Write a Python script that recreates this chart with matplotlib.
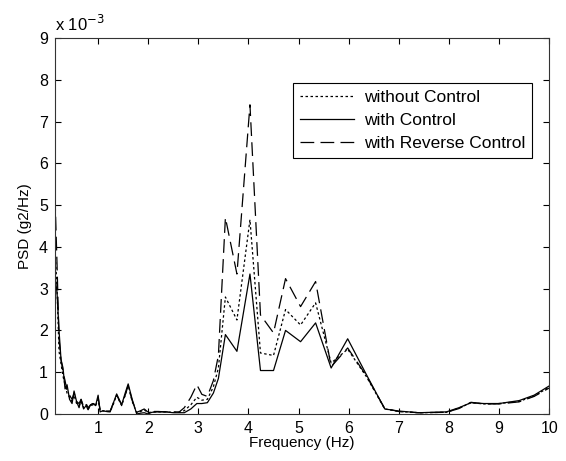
import matplotlib.pyplot as plt

plt.rcParams['font.family'] = ['Liberation Sans', 'DejaVu Sans']

# частоты, Гц
freq = [0.14, 0.18, 0.22, 0.26, 0.30, 0.34, 0.38, 0.43, 0.48, 0.52,
        0.57, 0.62, 0.66, 0.71, 0.76, 0.80, 0.85, 0.90, 0.95, 1.00,
        1.04, 1.10, 1.16, 1.24, 1.30, 1.37, 1.42, 1.47, 1.54, 1.60,
        1.68, 1.77, 1.85, 1.92, 2.00, 2.07, 2.20, 2.35, 2.50, 2.62,
        2.72, 2.85, 2.97, 3.07, 3.18, 3.30, 3.40, 3.54, 3.77, 4.03,
        4.24, 4.50, 4.74, 5.04, 5.34, 5.65, 5.98, 6.35, 6.72, 7.00,
        7.40, 7.95, 8.20, 8.44, 8.70, 9.00, 9.40, 9.70, 10.0]

# PSD в единицах 1e-3 g2/Hz
psd_without = [4.0, 3.0, 1.5, 1.2, 0.9, 0.7, 0.5, 0.4, 0.3, 0.45,
               0.25, 0.2, 0.3, 0.15, 0.22, 0.12, 0.2, 0.22, 0.2, 0.35,
               0.08, 0.07, 0.06, 0.06, 0.22, 0.45, 0.32, 0.2, 0.45, 0.68,
               0.3, 0.03, 0.06, 0.1, 0.03, 0.05, 0.05, 0.05, 0.04, 0.04,
               0.08, 0.22, 0.4, 0.33, 0.35, 0.65, 1.1, 2.8, 2.25, 4.65,
               1.46, 1.4, 2.5, 2.13, 2.66, 1.22, 1.55, 0.9, 0.12, 0.06,
               0.03, 0.04, 0.14, 0.27, 0.24, 0.25, 0.3, 0.43, 0.64]

psd_with = [3.3, 2.9, 2.0, 1.3, 1.1, 0.6, 0.7, 0.35, 0.25, 0.55,
            0.3, 0.15, 0.35, 0.12, 0.2, 0.1, 0.22, 0.25, 0.2, 0.45,
            0.05, 0.08, 0.06, 0.05, 0.25, 0.48, 0.35, 0.22, 0.5, 0.72,
            0.35, 0.0, 0.02, 0.03, 0.0, 0.04, 0.05, 0.05, 0.03, 0.03,
            0.03, 0.12, 0.25, 0.25, 0.27, 0.5, 0.85, 1.9, 1.5, 3.35,
            1.04, 1.04, 2.0, 1.73, 2.18, 1.1, 1.8, 0.95, 0.12, 0.07,
            0.03, 0.05, 0.15, 0.27, 0.25, 0.25, 0.32, 0.45, 0.67]

psd_reverse = [5.2, 3.6, 1.8, 1.3, 1.0, 0.8, 0.55, 0.45, 0.35, 0.5,
               0.3, 0.25, 0.35, 0.18, 0.25, 0.15, 0.22, 0.25, 0.22, 0.4,
               0.1, 0.08, 0.07, 0.07, 0.25, 0.45, 0.33, 0.22, 0.45, 0.68,
               0.32, 0.04, 0.08, 0.12, 0.04, 0.06, 0.06, 0.05, 0.05, 0.05,
               0.15, 0.4, 0.7, 0.47, 0.42, 0.8, 1.4, 4.7, 3.35, 7.4,
               2.37, 1.94, 3.24, 2.57, 3.17, 1.13, 1.58, 0.92, 0.13, 0.06,
               0.03, 0.04, 0.13, 0.28, 0.24, 0.24, 0.29, 0.42, 0.62]

fig = plt.figure(figsize=(5.66, 4.61), dpi=100)
ax = fig.add_axes([0.0972, 0.102, 0.873, 0.8156])

ax.plot(freq, psd_without, color='black', lw=0.9, dashes=(2, 2), label='without Control')
ax.plot(freq, psd_with, color='black', lw=0.9, label='with Control')
ax.plot(freq, psd_reverse, color='black', lw=0.9, dashes=(11, 5), label='with Reverse Control')

ax.set_xlim(0.14, 10)
ax.set_ylim(0, 9)
ax.set_xticks(range(1, 11))
ax.set_yticks(range(0, 10))
ax.tick_params(direction='in', top=True, right=True, length=4, labelsize=11.5, pad=5)
for s in ax.spines.values():
    s.set_color('#333333')

ax.set_xlabel('Frequency (Hz)', fontsize=11, labelpad=0)
ax.set_ylabel('PSD (g2/Hz)', fontsize=11, labelpad=5)
ax.text(0.0, 1.01, 'x 10$^{-3}$', transform=ax.transAxes, fontsize=12,
        ha='left', va='bottom')

leg = ax.legend(loc='upper right', bbox_to_anchor=(0.966, 0.88), fancybox=False,
                edgecolor='black', framealpha=1, handlelength=3.1, handletextpad=0.6,
                fontsize=12.5, borderaxespad=0, borderpad=0.4, labelspacing=0.45)
leg.get_frame().set_linewidth(0.8)

fig.savefig('out.png', dpi=100)
